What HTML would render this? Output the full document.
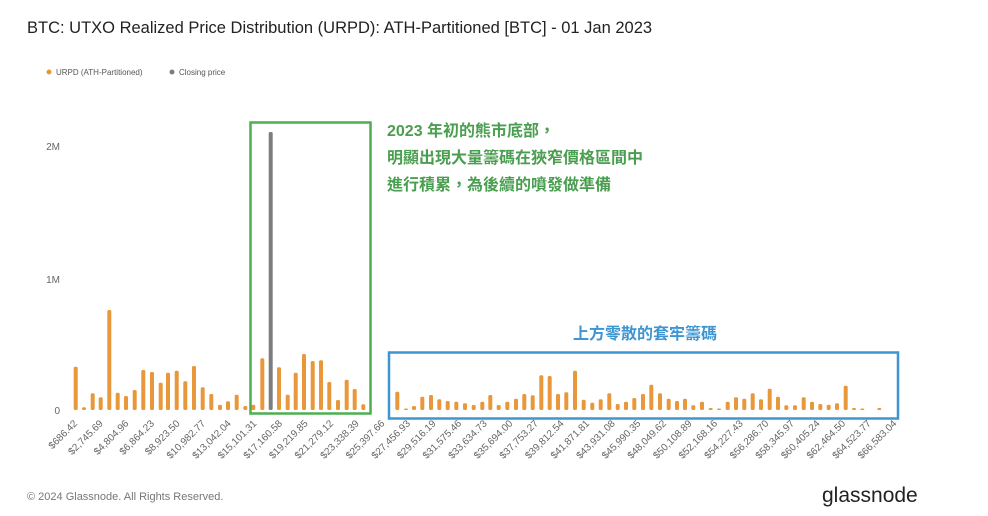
<!DOCTYPE html>
<html><head><meta charset="utf-8"><style>
body{margin:0;background:#fff;width:988px;height:516px;overflow:hidden}
svg{display:block}
</style></head><body>
<svg id="s" width="988" height="516" xmlns="http://www.w3.org/2000/svg" font-family="Liberation Sans, sans-serif">
<text x="27" y="33" font-size="16.5" fill="#222">BTC: UTXO Realized Price Distribution (URPD): ATH-Partitioned [BTC] - 01 Jan 2023</text>
<circle cx="49" cy="72" r="2.5" fill="#e8973a"/><text x="56" y="75" font-size="8" fill="#555">URPD (ATH-Partitioned)</text>
<circle cx="172" cy="72" r="2.5" fill="#7d7d80"/><text x="179" y="75" font-size="8" fill="#555">Closing price</text>
<text x="60" y="150" font-size="10" fill="#666" text-anchor="end">2M</text>
<text x="60" y="283" font-size="10" fill="#666" text-anchor="end">1M</text>
<text x="60" y="414" font-size="10" fill="#666" text-anchor="end">0</text>
<g id="bars"></g>
<g id="labels" font-size="10" fill="#666"></g>
<rect x="250.5" y="122.5" width="120" height="291" fill="none" stroke="#4caf50" stroke-width="2.5"/>
<rect x="389" y="352.5" width="509" height="66" fill="none" stroke="#3d95d2" stroke-width="2.5"/>
<g font-family="Liberation Sans, Noto Sans CJK TC, sans-serif" font-size="16" font-weight="bold" fill="#4a9e4f">
<text x="387" y="136">2023 年初的熊市底部，</text>
<text x="387" y="163">明顯出現大量籌碼在狹窄價格區間中</text>
<text x="387" y="190">進行積累，為後續的噴發做準備</text>
</g>
<text x="645" y="339" font-family="Liberation Sans, Noto Sans CJK TC, sans-serif" font-size="16" font-weight="bold" fill="#3d95d2" text-anchor="middle">上方零散的套牢籌碼</text>
<text x="27" y="500" font-size="11" fill="#777">© 2024 Glassnode. All Rights Reserved.</text>
<text x="822" y="502" font-size="21" fill="#222">glassnode</text>
</svg>
<script>
var L=[[137,230],[162,352],[188,310],[212,322],[238,60],[263,308],[288,318],[314,300],[340,240],[366,246],[392,278],[414,248],[440,242],[466,274],[492,228],[518,292],[544,312],[570,344],[594,334],[620,314],[646,348],[670,344],[697,205],[747,232],[773,314],[797,248],[822,192],[848,213],[873,211],[898,276],[924,330],[950,269],[974,297],[1000,343]];
var R=[[52,157],[78,208],[102,200],[127,172],[153,167],[178,180],[203,185],[229,187],[255,192],[281,197],[307,187],[331,167],[356,197],[382,187],[408,178],[433,164],[458,168],[484,108],[509,110],[534,164],[559,159],[585,94],[611,181],[637,190],[662,180],[688,162],[713,194],[738,187],[763,176],[789,164],[814,136],[840,162],[866,178],[891,185],[915,178],[940,198],[966,187],[992,206],[1017,208],[1043,187],[1068,174],[1093,178],[1118,162],[1143,180],[1169,148],[1194,172],[1219,198],[1245,198],[1271,174],[1296,187],[1321,194],[1346,196],[1371,192],[1397,139],[1422,206],[1447,209],[1498,206]];
var h='';
function bar(x,hh,c){h+='<rect x="'+(x-2).toFixed(1)+'" y="'+(410-hh).toFixed(1)+'" width="4" height="'+hh.toFixed(1)+'" rx="1.5" fill="'+c+'"/>';}
L.forEach(function(b){bar(30+b[0]/3,(360-b[1])/3,'#e8973a');});
bar(30+722/3,278,'#7d7d80');
R.forEach(function(b){bar(380+b[0]/3,Math.max(1.5,(212-b[1])/3),'#e8973a');});
document.getElementById('bars').innerHTML=h;
var labs=["$686.42","$2,745.69","$4,804.96","$6,864.23","$8,923.50","$10,982.77","$13,042.04","$15,101.31","$17,160.58","$19,219.85","$21,279.12","$23,338.39","$25,397.66","$27,456.93","$29,516.19","$31,575.46","$33,634.73","$35,694.00","$37,753.27","$39,812.54","$41,871.81","$43,931.08","$45,990.35","$48,049.62","$50,108.89","$52,168.16","$54,227.43","$56,286.70","$58,345.97","$60,405.24","$62,464.50","$64,523.77","$66,583.04"];
var g='';
labs.forEach(function(t,i){var x=78+i*25.6;g+='<text x="'+x.toFixed(1)+'" y="424" text-anchor="end" transform="rotate(-45 '+x.toFixed(1)+' 424)">'+t+'</text>';});
document.getElementById('labels').innerHTML=g;
</script>
</body></html>
